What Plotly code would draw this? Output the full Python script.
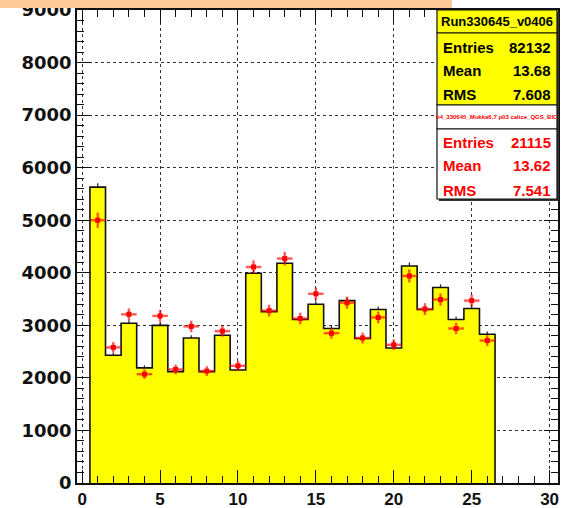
import plotly.graph_objects as go

# Bin centres of the histogram (unit-width bins, 0.5 .. 26.5)
bin_centres = list(range(1, 27))

# Reference histogram (yellow) contents and their statistical errors
hist_counts = [5630, 2430, 3040, 2190, 3000, 2120, 2760, 2120, 2810, 2150,
               3990, 3260, 4180, 3110, 3400, 2940, 3470, 2750, 3300, 2570,
               4130, 3300, 3720, 3110, 3320, 2830]
hist_errors = [75, 49, 55, 47, 55, 46, 53, 46, 53, 46,
               63, 57, 65, 56, 58, 54, 59, 52, 57, 51,
               64, 57, 61, 56, 58, 53]

# Overlaid (normalised) histogram drawn as red points with errors
red_counts = [5000, 2580, 3210, 2070, 3180, 2160, 2980, 2130, 2890, 2230,
              4110, 3280, 4270, 3130, 3600, 2850, 3430, 2760, 3150, 2630,
              3940, 3310, 3490, 2940, 3470, 2710]
red_errors = [145, 100, 112, 90, 111, 92, 108, 91, 106, 93,
              126, 113, 129, 110, 118, 105, 115, 103, 111, 101,
              124, 113, 117, 107, 116, 103]

# Statistics boxes
stats_title_1 = "Run330645_v0406"
stats_rows_1 = [("Entries", "82132"), ("Mean", "13.68"), ("RMS", "7.608")]
stats_title_2 = "h4_330645_Mokka6.7 p03 calice_QGS_BIC"
stats_rows_2 = [("Entries", "21115"), ("Mean", "13.62"), ("RMS", "7.541")]

x_ticks = [0, 5, 10, 15, 20, 25, 30]
y_ticks = [0, 1000, 2000, 3000, 4000, 5000, 6000, 7000, 8000, 9000]

W, H = 572, 508
L, R, T, B = 77, 14, 10, 25
PW, PH = W - L - R, H - T - B


def px(x):
    return (x - L) / PW


def py(y):
    return (H - B - y) / PH


# Step outline of the yellow histogram built from the bin edges
edges = [c - 0.5 for c in bin_centres] + [bin_centres[-1] + 0.5]
step_x = [edges[0]] + edges + [edges[-1]]
step_y = [0] + hist_counts + [hist_counts[-1], 0]

fig = go.Figure()

# error ticks of the yellow histogram (mostly hidden by the fill)
fig.add_trace(go.Scatter(
    x=bin_centres, y=hist_counts, mode="markers",
    marker=dict(size=1, color="rgba(0,0,0,0)"),
    error_y=dict(type="data", array=hist_errors, color="#222222",
                 thickness=1.2, width=0),
    hoverinfo="skip", showlegend=False))

fig.add_trace(go.Scatter(
    x=step_x, y=step_y, mode="lines", line_shape="hv",
    line=dict(color="#111111", width=1.6),
    fill="tozeroy", fillcolor="#ffff00",
    hoverinfo="skip", showlegend=False))

fig.add_trace(go.Scatter(
    x=bin_centres, y=red_counts, mode="markers",
    marker=dict(symbol="square", size=5, color="#ff0000"),
    error_y=dict(type="data", array=red_errors, color="rgba(255,0,0,0.65)",
                 thickness=2.4, width=0),
    error_x=dict(type="constant", value=0.5, color="rgba(255,0,0,0.65)",
                 thickness=2.4, width=0),
    showlegend=False))

axis_common = dict(
    showline=True, linecolor="#111111", linewidth=1.6, mirror="allticks",
    ticks="inside", tickcolor="#111111", tickwidth=1.2,
    showgrid=True, gridcolor="#333333", gridwidth=1, griddash="dot",
    zeroline=False, automargin=False, ticklabeloverflow="allow",
)

fig.update_xaxes(
    range=[-0.33, 30.54], tickvals=x_ticks, ticklen=13,
    minor=dict(dtick=1, tick0=0, ticklen=7, ticks="inside",
               tickcolor="#111111", tickwidth=1.2, showgrid=False),
    tickfont=dict(family="Liberation Sans", size=17, color="#111111",
                  weight=700),
    **axis_common)

fig.update_yaxes(
    range=[0, 9000], tickvals=y_ticks, ticklen=14,
    minor=dict(dtick=200, tick0=0, ticklen=7, ticks="inside",
               tickcolor="#111111", tickwidth=1.2, showgrid=False),
    tickfont=dict(family="DejaVu Sans", size=18, color="#111111",
                  weight=700),
    **axis_common)

shapes = []
annotations = []

# peach banner across the top-left of the canvas
shapes.append(dict(type="rect", xref="paper", yref="paper", layer="above",
                   x0=px(0), x1=px(452), y0=py(8), y1=py(-2),
                   fillcolor="#ffcc99", line=dict(width=0)))

bx0, bx1 = 437, 557


def box(y0, y1, fill):
    shapes.append(dict(type="rect", xref="paper", yref="paper", layer="above",
                       x0=px(bx0 + 2), x1=px(bx1 + 2), y0=py(y1 + 2), y1=py(y0 + 2),
                       fillcolor="#333333", line=dict(width=0)))
    shapes.append(dict(type="rect", xref="paper", yref="paper", layer="above",
                       x0=px(bx0), x1=px(bx1), y0=py(y1), y1=py(y0),
                       fillcolor=fill, line=dict(color="#111111", width=1.2)))


def text(x, y, s, size, color, anchor="left"):
    annotations.append(dict(x=px(x), y=py(y), xref="paper", yref="paper",
                            text=s, showarrow=False, xanchor=anchor,
                            yanchor="middle",
                            font=dict(family="Liberation Sans", size=size,
                                      color=color, weight="bold")))


# first statistics box (yellow)
box(10, 33, "#ffff00")
box(33, 105, "#ffff00")
text((bx0 + bx1) / 2, 22, stats_title_1, 13, "#000000", "center")
for i, (k, v) in enumerate(stats_rows_1):
    yy = 47 + i * 23.5
    text(441, yy, k, 15, "#000000")
    text(553, yy, v, 15, "#000000", "right")

# second statistics box (red text on white)
box(105, 129, "#ffffff")
box(129, 199, "#ffffff")
text((bx0 + bx1) / 2, 117, stats_title_2, 6, "#ff0000", "center")
for i, (k, v) in enumerate(stats_rows_2):
    yy = 142 + i * 24
    text(441, yy, k, 15, "#ff0000")
    text(553, yy, v, 15, "#ff0000", "right")

fig.update_layout(
    width=W, height=H,
    margin=dict(l=L, r=R, t=T, b=B),
    paper_bgcolor="#ffffff", plot_bgcolor="#ffffff",
    shapes=shapes, annotations=annotations,
    showlegend=False,
)

fig.write_html("out.html")
